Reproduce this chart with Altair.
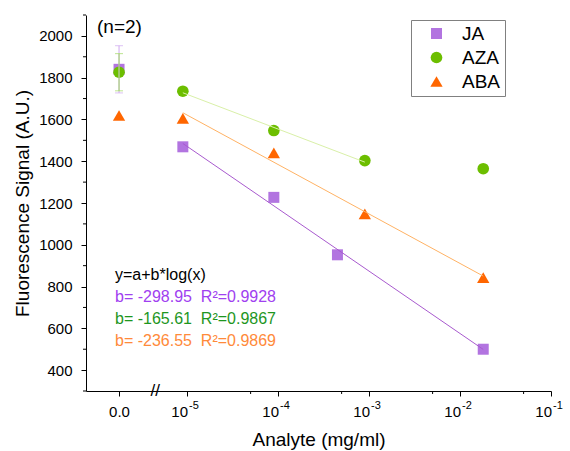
import altair as alt
import pandas as pd
import numpy as np

# ---------------- data ----------------
series = ["JA", "AZA", "ABA"]
conc_JA = [0, 9e-6, 9e-5, 4.5e-4, 1.8e-2]
sig_JA = [1840, 1469, 1227, 952, 500]
conc_AZA = [0, 9e-6, 9e-5, 9e-4, 1.8e-2]
sig_AZA = [1826, 1735, 1547, 1403, 1364]
conc_ABA = [0, 9e-6, 9e-5, 9e-4, 1.8e-2]
sig_ABA = [1619, 1605, 1440, 1148, 843]
err_zero = [113, 89, 0]            # error bars of the blank (0.0) points
fit_last = [1.8e-2, 9e-4, 1.8e-2]  # last concentration used in each fit
slopes = [-298.95, -165.61, -236.55]
r2 = [0.9928, 0.9867, 0.9869]

x_decades = [-5, -4, -3, -2, -1]          # labelled as 10^-5 ... 10^-1
y_major = [400, 600, 800, 1000, 1200, 1400, 1600, 1800, 2000]
y_minor = [300, 500, 700, 900, 1100, 1300, 1500, 1700, 1900, 2100]
x_minor_conc = [5e-5, 5e-4, 5e-3, 5e-2]

# ---------------- layout / style ----------------
ZERO_POS = -5.747   # position of the broken-axis "0.0" point (in decades)
BREAK_POS = -5.35
point_colors = ["#B274E0", "#6CBE00", "#FF6600"]
line_colors = ["#A85ACE", "#D9F0A8", "#FFB264"]
err_colors = ["#CFA8F0", "#A0D860", "#FF9A50"]
text_colors = ["#A040F0", "#1E961E", "#FF8A3A"]
FONT = "Liberation Sans"
NBSP = "\u00a0"

rows = []
for s, cs, ys, fl in zip(series, [conc_JA, conc_AZA, conc_ABA],
                         [sig_JA, sig_AZA, sig_ABA], fit_last):
    for c, v in zip(cs, ys):
        rows.append({
            "series": s,
            "conc": c,
            "signal": v,
            "u": float(np.log10(c)) if c > 0 else ZERO_POS,
            "infit": bool(0 < c <= fl),
        })
df = pd.DataFrame(rows)

err_df = pd.DataFrame({
    "series": series,
    "u": [ZERO_POS] * 3,
    "lo": [df[(df.series == s) & (df.conc == 0)].signal.iloc[0] - e for s, e in zip(series, err_zero)],
    "hi": [df[(df.series == s) & (df.conc == 0)].signal.iloc[0] + e for s, e in zip(series, err_zero)],
    "err": err_zero,
})
one = pd.DataFrame({"k": [0]})
xminor_df = pd.DataFrame({"u": np.log10(x_minor_conc)})
yminor_df = pd.DataFrame({"signal": y_minor})
dec_df = pd.DataFrame({"u": x_decades, "base": ["10"] * len(x_decades),
                       "exp": [str(d) for d in x_decades]})

x_major = [ZERO_POS] + x_decades
xs = alt.Scale(domain=[-6.11, -1], nice=False, zero=False)
ysc = alt.Scale(domain=[300, 2100], nice=False, zero=False)

x_axis = alt.Axis(
    values=x_major, labelExpr="datum.value < -5.5 ? '0.0' : ''",
    title="Analyte (mg/ml)", grid=False,
    domain=True, domainWidth=1, domainColor="black",
    tickSize=5, tickColor="black", tickWidth=1, labelColor="black", titleColor="black",
    labelFont=FONT, labelFontSize=15, labelPadding=8, labelFlush=False, labelOverlap=False,
    titleFont=FONT, titleFontSize=19, titleFontWeight="normal", titlePadding=11,
)
y_axis = alt.Axis(
    values=y_major, format="d",
    title="Fluorescence Signal (A.U.)", grid=False,
    domain=True, domainWidth=1, domainColor="black",
    tickSize=5, tickColor="black", tickWidth=1, labelColor="black", titleColor="black",
    labelFont=FONT, labelFontSize=15, labelPadding=9, labelFlush=False, labelOverlap=False,
    titleFont=FONT, titleFontSize=19, titleFontWeight="normal", titlePadding=6,
)

legend = alt.Legend(
    orient="none", legendX=325, legendY=5, title=None,
    strokeColor="#808080", fillColor="white", padding=4,
    labelFont=FONT, labelFontSize=19, labelColor="black",
    symbolOffset=12, labelOffset=16, rowPadding=4, symbolStrokeWidth=0,
)

points = alt.Chart(df).mark_point(filled=True, opacity=1).encode(
    x=alt.X("u:Q", scale=xs, axis=x_axis),
    y=alt.Y("signal:Q", scale=ysc, axis=y_axis),
    color=alt.Color("series:N", scale=alt.Scale(domain=series, range=point_colors), legend=legend),
    shape=alt.Shape("series:N", scale=alt.Scale(domain=series, range=["square", "circle", "triangle-up"]), legend=legend),
    size=alt.Size("series:N", scale=alt.Scale(domain=series, range=[121, 151, 196]), legend=legend),
)

fits = alt.Chart(df).transform_filter("datum.infit").transform_regression(
    "u", "signal", groupby=["series"]
).mark_line(strokeWidth=1).encode(
    x=alt.X("u:Q"),
    y=alt.Y("signal:Q"),
    stroke=alt.Stroke("series:N", scale=alt.Scale(domain=series, range=line_colors), legend=None),
)

err_layers = []
for s, col in zip(series, err_colors):
    base = alt.Chart(err_df).transform_filter(f"datum.series == '{s}' && datum.err > 0")
    err_layers.append(base.mark_rule(color=col, strokeWidth=1).encode(
        x=alt.X("u:Q"), y=alt.Y("lo:Q"), y2="hi:Q"))
    err_layers.append(base.transform_fold(["lo", "hi"], as_=["k", "v"]).mark_tick(
        color=col, orient="horizontal", size=8, thickness=1).encode(
        x=alt.X("u:Q"), y=alt.Y("v:Q")))

xminor = alt.Chart(xminor_df).mark_rule(color="black", strokeWidth=1).encode(
    x=alt.X("u:Q"), y=alt.value(376), y2=alt.value(379))
yminor = alt.Chart(yminor_df).mark_rule(color="black", strokeWidth=1).encode(
    y=alt.Y("signal:Q"), x=alt.value(-3), x2=alt.value(0))

# decade tick labels: "10" with a raised exponent
dec_base = alt.Chart(dec_df).mark_text(fontSize=15, font=FONT, color="black",
                                       align="right", baseline="middle", dx=1).encode(
    x=alt.X("u:Q"), y=alt.value(397), text="base:N")
dec_exp = alt.Chart(dec_df).mark_text(fontSize=11, font=FONT, color="black",
                                      align="left", baseline="middle", dx=2).encode(
    x=alt.X("u:Q"), y=alt.value(391), text="exp:N")

brk = alt.Chart(one).mark_text(text="//", fontSize=17, font=FONT, color="black",
                               baseline="middle", align="center").encode(
    x=alt.datum(BREAK_POS), y=alt.value(376))

ann = [alt.Chart(one).mark_text(text="(n=2)", fontSize=19, font=FONT, color="black",
                                align="left", baseline="middle").encode(
    x=alt.value(11), y=alt.value(12))]
ann.append(alt.Chart(one).mark_text(text="y=a+b*log(x)", fontSize=16, font=FONT, color="black",
                                    align="left", baseline="middle").encode(
    x=alt.value(29), y=alt.value(260)))
for i, (b, r, col) in enumerate(zip(slopes, r2, text_colors)):
    ann.append(alt.Chart(one).mark_text(
        text=f"b= {b:.2f}{NBSP} R²={r:.4f}", fontSize=16, font=FONT, color=col,
        align="left", baseline="middle").encode(
        x=alt.value(29), y=alt.value(282 + 22 * i)))

chart = alt.layer(points, fits, *err_layers, xminor, yminor, dec_base, dec_exp,
                  brk, *ann).properties(
    width=465, height=376,
    padding={"left": 86, "top": 15, "right": 19, "bottom": 60},
    autosize=alt.AutoSizeParams(type="none"),
    background="white",
).configure_view(stroke=None)

chart.save("out.html", embed_options={"renderer": "svg", "actions": False})
